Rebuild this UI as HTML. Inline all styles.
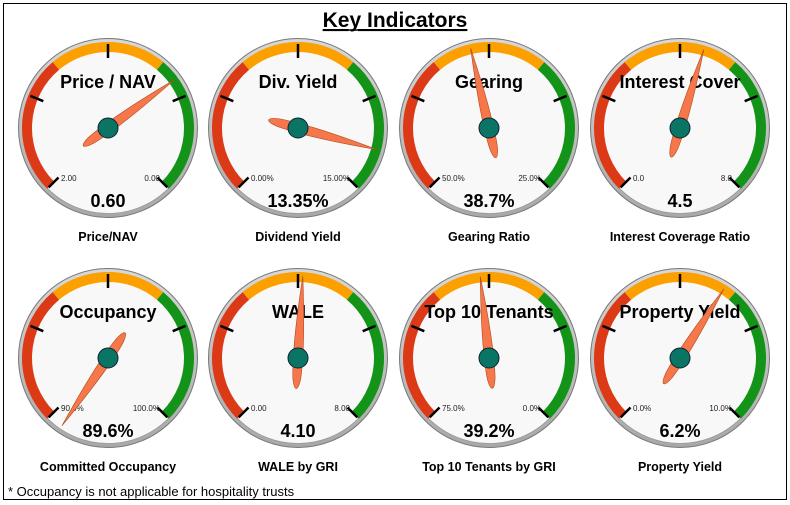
<!DOCTYPE html>
<html><head><meta charset="utf-8"><style>
body{margin:0;background:#fff;}
svg{display:block;font-family:"Liberation Sans",sans-serif;}
</style></head><body>
<svg id="chart" width="790" height="505" viewBox="0 0 790 505">
<rect x="3.5" y="3.5" width="783" height="496" fill="#fff" stroke="#000" stroke-width="1"/>
<text x="395" y="27" text-anchor="middle" font-size="21" font-weight="bold" text-decoration="underline">Key Indicators</text>
<line x1="327" y1="30" x2="463" y2="30" stroke="#000" stroke-width="1.5"/>
<text x="8" y="496" font-size="13">* Occupancy is not applicable for hospitality trusts</text>
<g id="gauges"></g>
</svg>
<script>
const titles=["Price / NAV","Div. Yield","Gearing","Interest Cover","Occupancy","WALE","Top 10 Tenants","Property Yield"];
const captions=["Price/NAV","Dividend Yield","Gearing Ratio","Interest Coverage Ratio","Committed Occupancy","WALE by GRI","Top 10 Tenants by GRI","Property Yield"];
const values=[0.60,13.35,38.7,4.5,89.6,4.10,39.2,6.2];
const valueLabels=["0.60","13.35%","38.7%","4.5","89.6%","4.10","39.2%","6.2%"];
const mins=[2,0,50,0,90,0,75,0];
const maxs=[0,15,25,8,100,8,0,10];
const minLabels=["2.00","0.00%","50.0%","0.0","90.0%","0.00","75.0%","0.0%"];
const maxLabels=["0.00","15.00%","25.0%","8.0","100.0%","8.00","0.0%","10.0%"];

const NS="http://www.w3.org/2000/svg";
const G=document.getElementById('gauges');
function mk(tag,attrs,parent){const e=document.createElementNS(NS,tag);for(const k in attrs)e.setAttribute(k,attrs[k]);parent.appendChild(e);return e;}
function pt(cx,cy,r,a){const t=a*Math.PI/180;return [cx+r*Math.sin(t),cy-r*Math.cos(t)];}
function arc(cx,cy,r,a0,a1){const p0=pt(cx,cy,r,a0),p1=pt(cx,cy,r,a1);const large=(a1-a0)>180?1:0;return `M${p0[0]},${p0[1]} A${r},${r} 0 ${large} 1 ${p1[0]},${p1[1]}`;}
function angleOf(i,v){const f=(v-mins[i])/(maxs[i]-mins[i]);return -135+f*270;}
const defs=mk('defs',{},document.getElementById('chart'));
const lg=mk('linearGradient',{id:'ring',x1:0,y1:0,x2:0,y2:1},defs);
mk('stop',{offset:'0','stop-color':'#d8d8d8'},lg);mk('stop',{offset:'1','stop-color':'#a8a8a8'},lg);
const cxs=[108,298,489,680],cys=[128,358];
for(let i=0;i<8;i++){
  const cx=cxs[i%4],cy=cys[Math.floor(i/4)];
  const g=mk('g',{},G);
  
  
  mk('circle',{cx,cy,r:89.5,fill:'url(#ring)',stroke:'#777','stroke-width':1},g);
  mk('circle',{cx,cy,r:85.5,fill:'#f8f8f8',stroke:'#999','stroke-width':0.8},g);
  const bands=[[-135,-40,'#dc3a16'],[-40,40,'#fca000'],[40,135,'#139418']];
  bands.forEach((b,j)=>{const p=mk('path',{d:arc(cx,cy,81,b[0],b[1]),fill:'none',stroke:b[2],'stroke-width':10},g);
    
    });
  [-135,-67.5,0,67.5,135].forEach(a=>{const p0=pt(cx,cy,70,a),p1=pt(cx,cy,84,a);
    mk('line',{x1:p0[0],y1:p0[1],x2:p1[0],y2:p1[1],stroke:'#000','stroke-width':2.5},g);});
  const t=mk('text',{x:cx,y:cy-40,'text-anchor':'middle','font-size':18,'font-weight':'bold'},g);t.textContent=titles[i];
  
  
  const mn=mk('text',{x:cx-47,y:cy+53,'font-size':8,fill:'#222'},g);mn.textContent=minLabels[i];
  
  
  const mx=mk('text',{x:cx+52,y:cy+53,'font-size':8,fill:'#222','text-anchor':'end'},g);mx.textContent=maxLabels[i];
  
  
  const v=mk('text',{x:cx,y:cy+79,'text-anchor':'middle','font-size':18,'font-weight':'bold'},g);v.textContent=valueLabels[i];
  
  
  const c=mk('text',{x:cx,y:cy+113,'text-anchor':'middle','font-size':12.5,'font-weight':'bold'},g);c.textContent=captions[i];
  
  
  const a=angleOf(i,values[i]);
  const needle=mk('path',{d:'M0,-82 C4,-40 6,-5 4,20 C2,34 -2,34 -4,20 C-6,-5 -4,-40 0,-82 Z',fill:'#f5774a',stroke:'#b04a20','stroke-width':0.6,transform:`translate(${cx},${cy}) rotate(${a})`},g);
  
  
  const hub=mk('circle',{cx,cy,r:10,fill:'#0b7565',stroke:'#123','stroke-width':1},g);
  
  
}
</script>
</body></html>
